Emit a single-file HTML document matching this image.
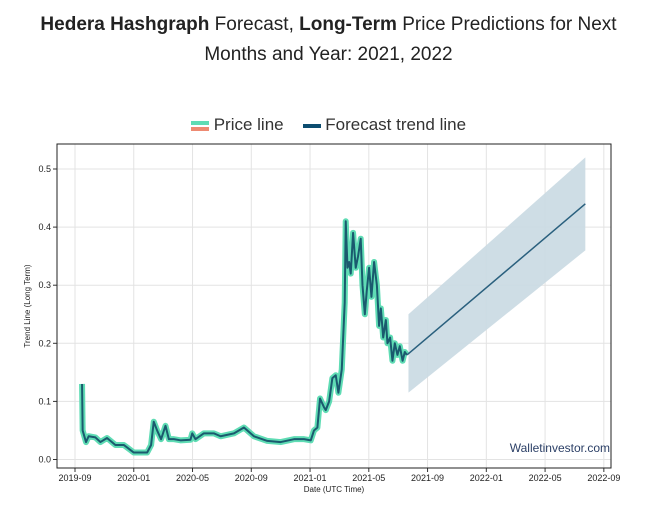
<!DOCTYPE html>
<html><head><meta charset="utf-8"><style>
body{margin:0;width:657px;height:507px;background:#fff;font-family:"Liberation Sans",sans-serif;overflow:hidden}
#title{position:absolute;left:0;top:10px;width:657px;text-align:center;font-size:19px;line-height:30px;color:#222}
#legend{position:absolute;top:115px;left:0;width:657px;text-align:center;font-size:17px;color:#333}
</style></head><body>
<div id="title"><b>Hedera Hashgraph</b> Forecast, <b>Long-Term</b> Price Predictions for Next<br>Months and Year: 2021, 2022</div>
<div id="legend">
<span><svg width="18" height="12" style="vertical-align:middle"><rect y="1" width="18" height="4" fill="#5fdcb4"/><rect y="7" width="18" height="4" fill="#ee8a72"/></svg> Price line</span>
&nbsp;&nbsp;
<span><svg width="18" height="12" style="vertical-align:middle"><rect y="4" width="18" height="4" fill="#0d4d70"/></svg> Forecast trend line</span>
</div>
<svg id="chart" width="657" height="507" style="position:absolute;left:0;top:0"></svg>
<script>
// months since 2019-09-01
const priceMonths=[0.48,0.52,0.75,0.93,1.39,1.73,2.18,2.75,3.32,4.0,4.91,5.18,5.36,5.59,5.86,6.16,6.39,6.73,7.18,7.86,7.98,8.2,8.77,9.45,9.91,10.82,11.5,12.18,13.09,14.0,14.91,15.59,16.05,16.27,16.5,16.68,16.95,17.07,17.3,17.52,17.75,17.93,18.16,18.36,18.43,18.55,18.66,18.77,18.93,19.11,19.27,19.45,19.57,19.73,19.86,20.02,20.18,20.36,20.55,20.7,20.82,20.98,21.16,21.27,21.45,21.61,21.77,21.95,22.11,22.3,22.45,22.59];
const priceValues=[0.13,0.05,0.03,0.04,0.038,0.03,0.037,0.025,0.025,0.012,0.012,0.025,0.065,0.05,0.035,0.058,0.035,0.035,0.033,0.034,0.045,0.035,0.045,0.045,0.04,0.045,0.055,0.04,0.032,0.03,0.035,0.035,0.033,0.05,0.055,0.105,0.09,0.085,0.1,0.14,0.145,0.115,0.155,0.27,0.41,0.33,0.34,0.32,0.39,0.33,0.35,0.38,0.3,0.25,0.29,0.33,0.28,0.34,0.3,0.23,0.26,0.21,0.24,0.2,0.21,0.17,0.2,0.18,0.195,0.17,0.185,0.18];
const forecastMonths=[22.6,34.74];
const forecastValues=[0.18,0.44];
const bandMonths=[22.7,34.74];
const bandUpper=[0.25,0.52];
const bandLower=[0.115,0.36];
const xTickMonths=[0,4,8,12,16,20,24,28,32,36];
const xTickLabels=["2019-09","2020-01","2020-05","2020-09","2021-01","2021-05","2021-09","2022-01","2022-05","2022-09"];
const yTicks=[0,0.1,0.2,0.3,0.4,0.5];
const yTickLabels=["0.0","0.1","0.2","0.3","0.4","0.5"];

const L=57,R=611,T=144,B=468;
const X=m=>75+m*14.69;
const Y=v=>459.5-v*581;
const s=document.getElementById('chart');const NS='http://www.w3.org/2000/svg';
function el(t,a,p){const e=document.createElementNS(NS,t);for(const k in a)e.setAttribute(k,a[k]);(p||s).appendChild(e);return e;}
yTicks.forEach((v,i)=>{
 const g=el('line',{x1:L,x2:R,y1:Y(v),y2:Y(v),stroke:'#e3e3e3'});
 
 
 const tk=el('line',{x1:L-4,x2:L,y1:Y(v),y2:Y(v),stroke:'#333'});
 
 
 const t=el('text',{x:L-6,y:Y(v)+3,'text-anchor':'end','font-size':9,fill:'#222'});t.textContent=yTickLabels[i];
 
 
});
xTickMonths.forEach((m,i)=>{
 const g=el('line',{x1:X(m),x2:X(m),y1:T,y2:B,stroke:'#e3e3e3'});
 
 
 const tk=el('line',{x1:X(m),x2:X(m),y1:B,y2:B+4,stroke:'#333'});
 
 
 const t=el('text',{x:X(m),y:B+13,'text-anchor':'middle','font-size':9,fill:'#222'});t.textContent=xTickLabels[i];
 
 
});
let bp='';bandMonths.forEach((m,i)=>bp+=(i?'L':'M')+X(m)+','+Y(bandUpper[i]));
for(let i=bandMonths.length-1;i>=0;i--)bp+='L'+X(bandMonths[i])+','+Y(bandLower[i]);
const band=el('path',{d:bp+'Z',fill:'#c9d9e2',opacity:0.9});


const pp=priceMonths.map((m,i)=>X(m)+','+Y(priceValues[i])).join(' ');
const glow=el('polyline',{points:pp,fill:'none',stroke:'#5fdcb4','stroke-width':6,'stroke-linejoin':'round'});


const pl=el('polyline',{points:pp,fill:'none',stroke:'#1a5a6e','stroke-width':2,'stroke-linejoin':'round'});


const fp=forecastMonths.map((m,i)=>X(m)+','+Y(forecastValues[i])).join(' ');
const fl=el('polyline',{points:fp,fill:'none',stroke:'#2a607e','stroke-width':1.5});


const fr=el('rect',{x:L,y:T,width:R-L,height:B-T,fill:'none',stroke:'#222','stroke-width':1});


const yt=el('text',{x:0,y:0,transform:`translate(30,${(T+B)/2}) rotate(-90)`,'text-anchor':'middle','font-size':8,fill:'#222'});yt.textContent='Trend Line (Long Term)';


const xt=el('text',{x:(L+R)/2,y:B+24,'text-anchor':'middle','font-size':8,fill:'#222'});xt.textContent='Date (UTC Time)';


const wm=el('text',{x:610,y:452,'text-anchor':'end','font-size':12,fill:'#2b3f66'});wm.textContent='Walletinvestor.com';


</script>
</body></html>
